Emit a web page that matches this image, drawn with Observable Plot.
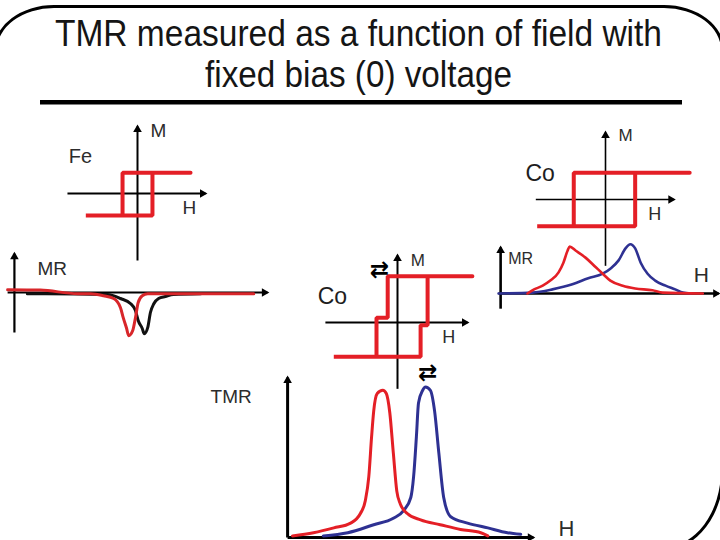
<!DOCTYPE html>
<html>
<head>
<meta charset="utf-8">
<script src="https://cdn.jsdelivr.net/npm/d3@7"></script>
<script src="https://cdn.jsdelivr.net/npm/@observablehq/plot@0.6"></script>
<style>
  body { margin: 0; background: #fff; }
  #stage { position: relative; width: 720px; height: 540px; overflow: hidden; background: #fff;
           font-family: "Liberation Sans", Arial, sans-serif; }
  #frame { position: absolute; left: -6px; top: 5px; width: 730px; height: 545px;
           border: 3px solid #000; box-sizing: border-box;
           border-top-left-radius: 60px 45px; border-top-right-radius: 60px 45px;
           border-bottom-right-radius: 60px 80px; border-bottom-left-radius: 0; }
  #title { position: absolute; left: 0; top: 0; }
</style>
</head>
<body>
<div id="stage">
  <div id="frame"></div>
  <svg id="title" width="720" height="110" font-family="Liberation Sans, Arial, sans-serif">
    <text x="55" y="46" font-size="36" fill="#151515" textLength="607" lengthAdjust="spacingAndGlyphs">TMR measured as a function of field with</text>
    <text x="205" y="87" font-size="36" fill="#151515" textLength="307" lengthAdjust="spacingAndGlyphs">fixed bias (0) voltage</text>
    <rect x="40" y="100" width="642" height="4.5" fill="#000"></rect>
  </svg>
</div>
<script>
// ---------------- DATA (field H, magnetisation M, magnetoresistance) ----------------
// Fe hysteresis loop
const feLoopH = [0.78, -0.22, -0.22, -0.76, 0.22, 0.22, 0.78];
const feLoopM = [0.31, 0.31, -0.33, -0.33, -0.33, 0.31, 0.31];
// Fe MR curves (red and black)
const feMrRedH = [-1.91, -1.43, -0.88, -0.69, -0.50, -0.35, -0.25, -0.21, -0.16, -0.13, -0.07, -0.03, 0.01, 0.07, 0.15, 1.71];
const feMrRed  = [0.07, 0.06, -0.03, -0.03, -0.08, -0.15, -0.38, -0.63, -0.90, -1.08, -0.95, -0.63, -0.25, -0.08, -0.03, -0.03];
const feMrBlackH = [-1.62, -1.35, -0.44, -0.25, -0.10, -0.03, 0.01, 0.07, 0.10, 0.15, 0.19, 0.24, 0.31, 0.41, 0.53, 0.93];
const feMrBlack  = [-0.03, -0.03, -0.05, -0.15, -0.28, -0.45, -0.70, -0.90, -1.03, -0.88, -0.50, -0.28, -0.15, -0.10, -0.05, -0.03];
// Co hysteresis loop (top right)
const coLoopH = [1.22, -0.46, -0.46, -0.99, 0.43, 0.43, 1.22];
const coLoopM = [0.40, 0.40, -0.40, -0.40, -0.40, 0.40, 0.40];
// Co MR curves (red and blue)
const coMrRedH = [-1.13, -1.06, -0.91, -0.80, -0.68, -0.61, -0.55, -0.52, -0.43, -0.29, -0.14, -0.04, 0.07, 0.25, 0.43, 0.68, 0.83, 1.41];
const coMrRed  = [0, 0.07, 0.17, 0.28, 0.46, 0.67, 0.93, 1.02, 0.93, 0.78, 0.57, 0.43, 0.28, 0.17, 0.11, 0.07, 0.02, 0];
const coMrBlueH = [-1.55, -1.06, -0.77, -0.48, -0.25, -0.04, 0.07, 0.19, 0.29, 0.36, 0.43, 0.51, 0.61, 0.72, 0.87, 1.01, 1.12, 1.23];
const coMrBlue  = [0, 0.02, 0.09, 0.20, 0.33, 0.43, 0.54, 0.72, 0.98, 1.07, 0.98, 0.67, 0.43, 0.28, 0.17, 0.09, 0.02, 0];
// Junction (two-step) loop
const midLoopH = [1.07, -0.14, -0.14, -0.30, -0.30, -0.91, 0.33, 0.33, 0.43, 0.43, 1.07];
const midLoopM = [0.69, 0.69, 0.07, 0.07, -0.51, -0.51, -0.51, -0.04, -0.04, 0.69, 0.69];
// TMR curves (red and blue)
const tmrRedH = [-1.50, -1.20, -0.91, -0.67, -0.53, -0.46, -0.41, -0.37, -0.34, -0.29, -0.21, -0.16, -0.11, -0.06, -0.01, 0.04, 0.14, 0.33, 0.61, 0.90, 1.19, 1.29];
const tmrRed  = [0.01, 0.03, 0.06, 0.09, 0.15, 0.23, 0.38, 0.63, 0.79, 0.90, 0.92, 0.90, 0.78, 0.53, 0.29, 0.21, 0.15, 0.11, 0.08, 0.05, 0.03, 0.01];
const tmrBlueH = [-1.06, -0.71, -0.34, -0.06, 0.09, 0.19, 0.23, 0.27, 0.30, 0.36, 0.40, 0.47, 0.53, 0.59, 0.66, 0.76, 1.00, 1.29, 1.57, 1.76];
const tmrBlue  = [0.01, 0.03, 0.08, 0.12, 0.17, 0.25, 0.38, 0.63, 0.84, 0.92, 0.94, 0.92, 0.79, 0.53, 0.25, 0.13, 0.09, 0.06, 0.03, 0.02];

// ---------------- helpers ----------------
const RED = "#e41f26", BLUE = "#2e3192", INK = "#000", LABEL = "#2c2c2c";
const FONT = "Liberation Sans, Arial, sans-serif";
const zip = (xs, ys) => xs.map((x, i) => ({h: x, v: ys[i]}));
const stage = document.getElementById("stage");

function axisMarks(ax, w) {
  const segs = [
    {x1: ax.h1, y1: ax.hAt, x2: ax.h2, y2: ax.hAt},
    {x1: ax.vAt, y1: ax.v1, x2: ax.vAt, y2: ax.v2}
  ];
  return [
    Plot.link(segs, {x1: "x1", y1: "y1", x2: "x2", y2: "y2", stroke: INK, strokeWidth: w}),
    Plot.dot([{x: ax.h2, y: ax.hAt}], {x: "x", y: "y", symbol: "triangle", r: 3.2, fill: INK, rotate: 90, dx: -3}),
    Plot.dot([{x: ax.vAt, y: ax.v2}], {x: "x", y: "y", symbol: "triangle", r: 3.2, fill: INK, rotate: 0, dy: 3})
  ];
}
function label(text, h, v, size, opts = {}) {
  return Plot.text([text], {x: () => h, y: () => v, text: d => d, fontSize: size, fill: LABEL,
    textAnchor: "start", lineAnchor: "bottom", fontFamily: FONT, ...opts});
}
function lineMark(xs, ys, stroke, w, extra = {}) {
  return Plot.line(zip(xs, ys), {x: "h", y: "v", stroke, strokeWidth: w, ...extra});
}
function panel(cfg) {
  const {left, top, width, height, x0, y0, kx, ky, marks} = cfg;
  const svg = Plot.plot({
    width, height, margin: 0,
    x: {type: "linear", axis: null, domain: [(left - x0) / kx, (left + width - x0) / kx], range: [0, width]},
    y: {type: "linear", axis: null, domain: [(y0 - (top + height)) / ky, (y0 - top) / ky], range: [height, 0]},
    style: {background: "transparent", overflow: "visible", fontFamily: FONT},
    marks
  });
  svg.style.position = "absolute";
  svg.style.left = left + "px";
  svg.style.top = top + "px";
  stage.appendChild(svg);
}
const swapIcon = {fill: "#000", fontWeight: "bold", textAnchor: "middle", lineAnchor: "middle", fontFamily: "DejaVu Sans"};

// ---------------- Fe hysteresis ----------------
panel({left: 55, top: 115, width: 160, height: 150, x0: 137, y0: 193, kx: 68, ky: 67, marks: [
  ...axisMarks({hAt: 0, h1: -1.03, h2: 1.0, vAt: 0, v1: -1.0, v2: 1.0}, 2),
  lineMark(feLoopH, feLoopM, RED, 4, {strokeLinejoin: "miter"}),
  label("Fe", -1.01, 0.46, 20),
  label("M", 0.19, 0.84, 19),
  label("H", 0.66, -0.30, 19)
]});

// ---------------- Fe MR ----------------
panel({left: 0, top: 245, width: 280, height: 95, x0: 137, y0: 292, kx: 68, ky: 40, marks: [
  ...axisMarks({hAt: 0, h1: -1.91, h2: 1.91, vAt: -1.81, v1: -1.0, v2: 0.97}, 2.2),
  lineMark(feMrBlackH, feMrBlack, "#111", 3, {curve: "monotone-x"}),
  lineMark(feMrRedH, feMrRed, "#d8262a", 3, {curve: "monotone-x"}),
  label("MR", -1.47, 0.43, 19)
]});

// ---------------- Co hysteresis (top right) ----------------
panel({left: 515, top: 120, width: 185, height: 150, x0: 605, y0: 199, kx: 69, ky: 67, marks: [
  ...axisMarks({hAt: 0, h1: -1.01, h2: 0.99, vAt: 0, v1: -0.99, v2: 1.0}, 1.6),
  lineMark(coLoopH, coLoopM, RED, 4, {strokeLinejoin: "miter"}),
  label("Co", -1.16, 0.28, 23, {fill: "#1e1e1e"}),
  label("M", 0.19, 0.88, 17),
  label("H", 0.62, -0.31, 18)
]});

// ---------------- Co MR ----------------
panel({left: 490, top: 240, width: 230, height: 75, x0: 605, y0: 293, kx: 69, ky: 46, marks: [
  ...axisMarks({hAt: 0, h1: -1.55, h2: 1.64, vAt: -1.52, v1: -0.33, v2: 1.0}, 2.6),
  lineMark(coMrBlueH, coMrBlue, BLUE, 2.6, {curve: "monotone-x"}),
  lineMark(coMrRedH, coMrRed, RED, 2.6, {curve: "monotone-x"}),
  label("MR", -1.41, 0.65, 16),
  label("H", 1.28, 0.24, 21)
]});

// ---------------- Junction two-step loop ----------------
panel({left: 305, top: 245, width: 180, height: 150, x0: 397, y0: 322, kx: 70, ky: 67, marks: [
  ...axisMarks({hAt: 0, h1: -1.03, h2: 1.0, vAt: 0, v1: -0.99, v2: 1.0}, 2),
  lineMark(midLoopH, midLoopM, RED, 4, {strokeLinejoin: "miter"}),
  label("Co", -1.14, 0.28, 23, {fill: "#1e1e1e"}),
  label("M", 0.19, 0.85, 17),
  label("H", 0.64, -0.30, 18),
  label("\u21C4", -0.26, 0.79, 23, swapIcon),
  label("\u21C4", 0.43, -0.75, 23, swapIcon)
]});

// ---------------- TMR ----------------
panel({left: 200, top: 365, width: 390, height: 175, x0: 397, y0: 537, kx: 70, ky: 160, marks: [
  ...axisMarks({hAt: 0, h1: -1.57, h2: 1.94, vAt: -1.57, v1: 0, v2: 1.0}, 3),
  lineMark(tmrBlueH, tmrBlue, BLUE, 3, {curve: "monotone-x"}),
  lineMark(tmrRedH, tmrRed, RED, 3, {curve: "monotone-x"}),
  label("TMR", -2.67, 0.84, 19),
  label("H", 2.3, 0.01, 22)
]});
</script>
</body>
</html>
